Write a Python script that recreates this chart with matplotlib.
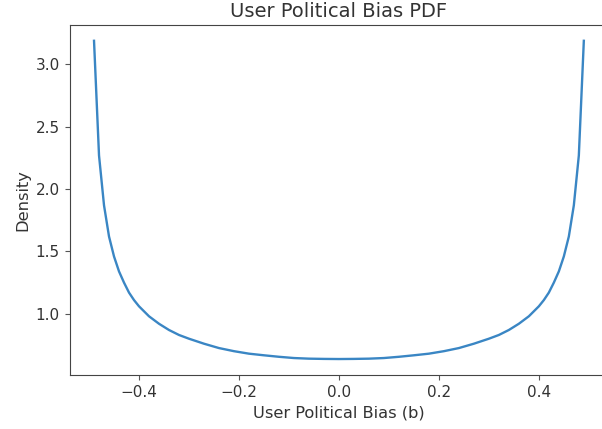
import matplotlib
matplotlib.use("Agg")
import matplotlib.pyplot as plt

# values (left half, curve is symmetric)
bias_left = [-0.49, -0.48, -0.47, -0.46, -0.45, -0.44, -0.43, -0.42, -0.41, -0.40,
             -0.38, -0.36, -0.34, -0.32, -0.30, -0.27, -0.24, -0.21, -0.18,
             -0.15, -0.12, -0.09, -0.06, -0.03]
density_left = [3.19, 2.27, 1.87, 1.62, 1.46, 1.34, 1.25, 1.17, 1.11, 1.06,
                0.98, 0.92, 0.87, 0.83, 0.80, 0.76, 0.725, 0.70, 0.68,
                0.667, 0.655, 0.645, 0.640, 0.638]
bias_mid = [0.0]
density_mid = [0.637]

bias = bias_left + bias_mid + [-b for b in reversed(bias_left)]
density = density_left + density_mid + list(reversed(density_left))

text_color = "#333333"

fig = plt.figure(figsize=(6.02, 4.29), dpi=100)
ax = fig.add_axes([0.1155, 0.126, 0.895, 0.816])

ax.plot(bias, density, color="#3a86c4", linewidth=1.7)
ax.set_title("User Political Bias PDF", fontsize=14, color=text_color)
ax.set_xlabel("User Political Bias (b)", fontsize=11.7, color=text_color)
ax.set_ylabel("Density", fontsize=11.7, color=text_color)
ax.tick_params(labelsize=11, labelcolor=text_color, color="#555555")
for s in ax.spines.values():
    s.set_color("#444444")

fig.savefig("out.png", dpi=100)
